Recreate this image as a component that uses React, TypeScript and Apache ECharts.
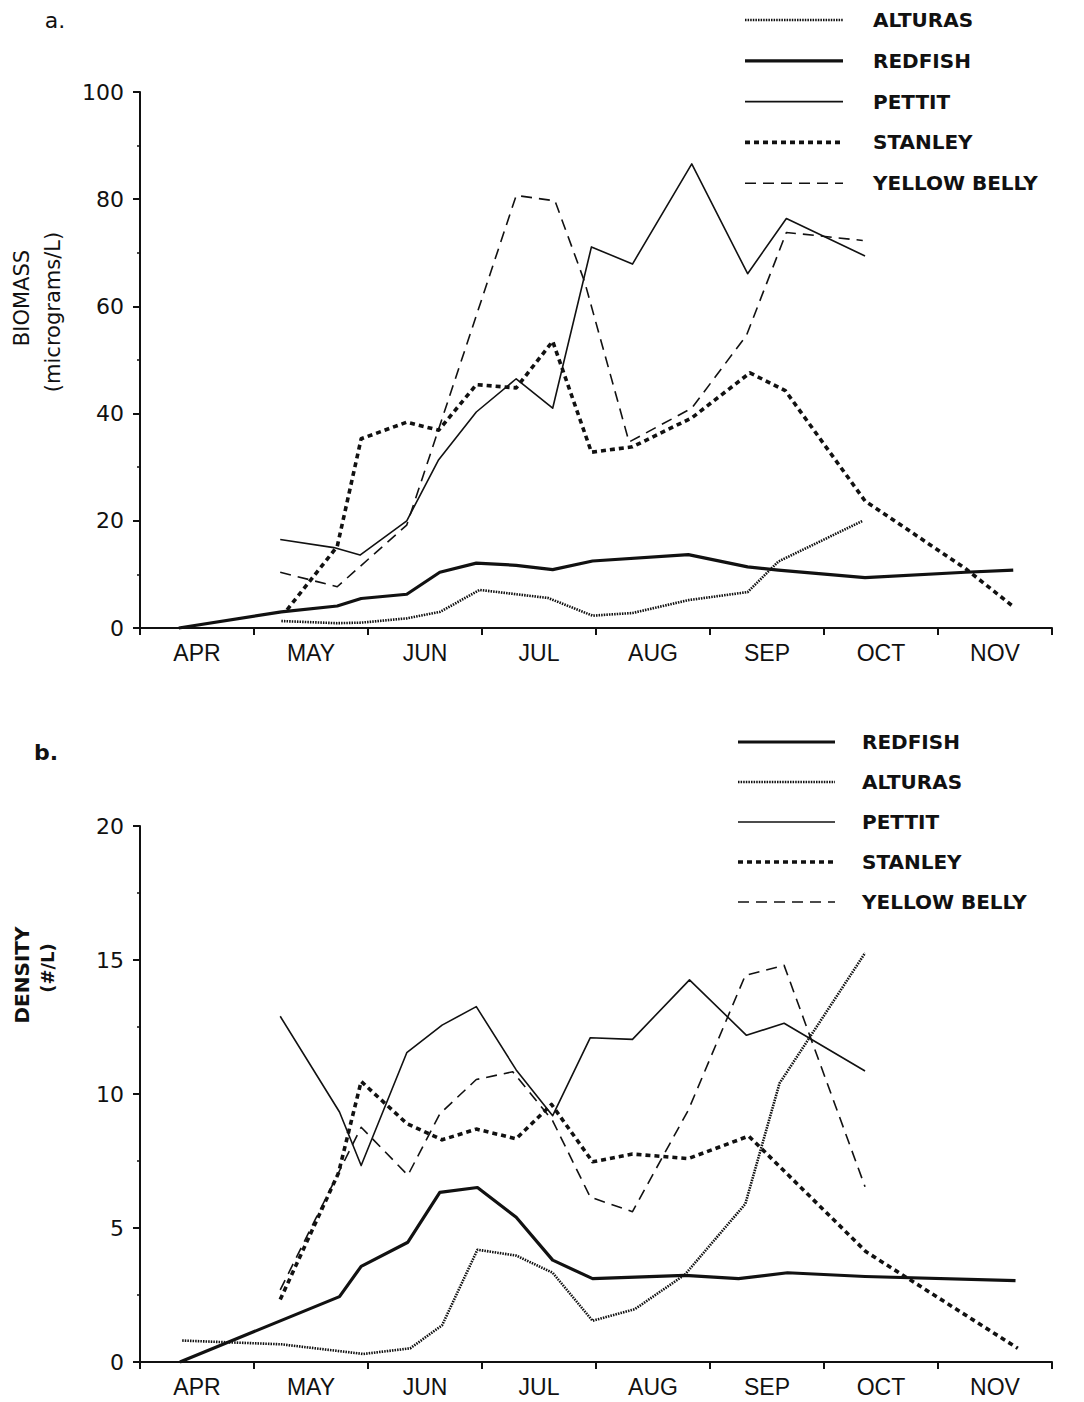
import React, { useEffect, useRef } from "react";
import * as echarts from "echarts";

// Month categories (x axis labels)
const months = ["APR", "MAY", "JUN", "JUL", "AUG", "SEP", "OCT", "NOV"];

// x values are months elapsed since 1 April
// Panel a: BIOMASS (micrograms/L)
const alturasBiomass = [[1.24, 1.3], [1.73, 0.9], [1.94, 1.0], [2.34, 1.8], [2.63, 3.0], [2.98, 7.1], [3.58, 5.6], [3.97, 2.3], [4.32, 2.8], [4.81, 5.2], [5.33, 6.7], [5.6, 12.4], [6.34, 20.0]];
const redfishBiomass = [[0.34, 0], [1.24, 3.0], [1.73, 4.1], [1.94, 5.5], [2.34, 6.3], [2.63, 10.4], [2.95, 12.1], [3.3, 11.7], [3.62, 10.9], [3.97, 12.5], [4.81, 13.7], [5.33, 11.4], [5.6, 10.8], [6.36, 9.4], [7.24, 10.4], [7.66, 10.8]];
const pettitBiomass = [[1.23, 16.5], [1.7, 15.0], [1.93, 13.6], [2.34, 20.0], [2.62, 31.4], [2.95, 40.3], [3.3, 46.5], [3.62, 41.0], [3.96, 71.1], [4.32, 67.9], [4.84, 86.6], [5.33, 66.1], [5.67, 76.4], [6.36, 69.4]];
const stanleyBiomass = [[1.29, 3.4], [1.73, 15.2], [1.94, 35.3], [2.34, 38.4], [2.62, 36.9], [2.95, 45.4], [3.3, 44.8], [3.62, 53.5], [3.96, 32.8], [4.32, 33.8], [4.84, 39.2], [5.35, 47.6], [5.66, 44.3], [6.36, 23.7], [7.24, 11.1], [7.66, 4.0]];
const yellowBellyBiomass = [[1.23, 10.4], [1.73, 7.7], [2.34, 19.2], [3.3, 80.7], [3.64, 79.7], [3.9, 64.6], [4.29, 34.7], [4.84, 41.0], [5.32, 54.6], [5.67, 73.8], [6.34, 72.3]];

// Panel b: DENSITY (#/L)
const redfishDensity = [[0.35, 0], [1.75, 2.44], [1.94, 3.57], [2.35, 4.47], [2.63, 6.33], [2.96, 6.51], [3.3, 5.4], [3.62, 3.8], [3.97, 3.11], [4.78, 3.23], [5.25, 3.11], [5.68, 3.33], [6.36, 3.19], [7.68, 3.04]];
const alturasDensity = [[0.37, 0.8], [1.24, 0.66], [1.96, 0.3], [2.37, 0.51], [2.65, 1.37], [2.96, 4.19], [3.3, 3.97], [3.62, 3.33], [3.97, 1.54], [4.34, 1.97], [4.78, 3.26], [5.31, 5.9], [5.61, 10.4], [6.36, 15.26]];
const pettitDensity = [[1.23, 12.9], [1.75, 9.33], [1.94, 7.33], [2.34, 11.54], [2.65, 12.57], [2.95, 13.26], [3.3, 10.9], [3.62, 9.19], [3.95, 12.1], [4.32, 12.04], [4.82, 14.26], [5.32, 12.19], [5.65, 12.64], [6.36, 10.86]];
const stanleyDensity = [[1.23, 2.33], [1.74, 7.04], [1.94, 10.47], [2.34, 8.9], [2.65, 8.29], [2.95, 8.69], [3.3, 8.33], [3.61, 9.61], [3.97, 7.47], [4.32, 7.76], [4.81, 7.59], [5.34, 8.43], [6.37, 4.11], [7.7, 0.51]];
const yellowBellyDensity = [[1.23, 2.69], [1.94, 8.76], [2.35, 6.97], [2.63, 9.26], [2.95, 10.54], [3.27, 10.83], [3.62, 9.0], [3.95, 6.15], [4.32, 5.61], [4.81, 9.4], [5.31, 14.43], [5.65, 14.8], [6.36, 6.54]];

// Legend orders
const legendA = ["ALTURAS", "REDFISH", "PETTIT", "STANLEY", "YELLOW BELLY"];
const legendB = ["REDFISH", "ALTURAS", "PETTIT", "STANLEY", "YELLOW BELLY"];

// Line styles per lake
const lineStyles: Record<string, { width: number; dash: number[] | null }> = {
  ALTURAS: { width: 2.6, dash: [1.5, 1.1] },
  REDFISH: { width: 3.2, dash: null },
  PETTIT: { width: 1.6, dash: null },
  STANLEY: { width: 3.6, dash: [5, 4] },
  "YELLOW BELLY": { width: 1.6, dash: [11, 7] },
};

const FONT = "'Liberation Sans', Arial, Helvetica, sans-serif";
const WIDE = "'DejaVu Sans', 'Liberation Sans', sans-serif";
const INK = "#111";

function makeSeries(name: string, data: number[][], xAxisIndex: number, yAxisIndex: number) {
  const st = lineStyles[name];
  return {
    type: "line",
    name,
    xAxisIndex,
    yAxisIndex,
    data,
    symbol: "none",
    showSymbol: false,
    clip: false,
    lineStyle: {
      color: INK,
      width: st.width,
      type: st.dash ? st.dash : "solid",
      cap: "butt",
      join: "round",
    },
  };
}

function legendGraphics(names: string[], x1: number, x2: number, tx: number, y0: number, gap: number) {
  const els: any[] = [];
  names.forEach((n, i) => {
    const st = lineStyles[n];
    const y = y0 + i * gap;
    els.push({
      type: "line",
      shape: { x1, y1: y, x2, y2: y },
      style: { stroke: INK, lineWidth: st.width, lineDash: st.dash ? st.dash : null },
    });
    els.push({
      type: "text",
      x: tx,
      y,
      style: {
        text: n,
        font: `bold 20px ${WIDE}`,
        fill: INK,
        textAlign: "left",
        textVerticalAlign: "middle",
      },
    });
  });
  return els;
}

function catAxis(gridIndex: number) {
  return {
    type: "category",
    gridIndex,
    data: months,
    boundaryGap: true,
    axisLine: { show: true, lineStyle: { color: INK, width: 2 } },
    axisTick: { show: true, length: 7, inside: false, lineStyle: { color: INK, width: 2 } },
    axisLabel: { show: true, color: INK, fontFamily: FONT, fontSize: 23, margin: 13 },
    splitLine: { show: false },
  };
}

function valXAxis(gridIndex: number) {
  return {
    type: "value",
    gridIndex,
    min: 0,
    max: 8,
    show: false,
    splitLine: { show: false },
  };
}

function yAxis(gridIndex: number, max: number, interval: number) {
  return {
    type: "value",
    gridIndex,
    min: 0,
    max,
    interval,
    axisLine: { show: true, lineStyle: { color: INK, width: 2 } },
    axisTick: { show: true, length: 7, lineStyle: { color: INK, width: 2 } },
    minorTick: { show: true, splitNumber: 2, length: 3, lineStyle: { color: INK, width: 1.5 } },
    axisLabel: { color: INK, fontFamily: WIDE, fontSize: 22, margin: 16 },
    splitLine: { show: false },
    minorSplitLine: { show: false },
  };
}

export default function App() {
  const ref = useRef<HTMLDivElement>(null);
  useEffect(() => {
    if (!ref.current) return;
    const chart = echarts.init(ref.current, null, { renderer: "svg" });
    const option: any = {
      animation: false,
      backgroundColor: "#fff",
      grid: [
        { left: 140, top: 92, width: 912, height: 536, containLabel: false },
        { left: 140, top: 826, width: 912, height: 536, containLabel: false },
      ],
      xAxis: [catAxis(0), valXAxis(0), catAxis(1), valXAxis(1)],
      yAxis: [yAxis(0, 100, 20), yAxis(1, 20, 5)],
      series: [
        makeSeries("ALTURAS", alturasBiomass, 1, 0),
        makeSeries("REDFISH", redfishBiomass, 1, 0),
        makeSeries("PETTIT", pettitBiomass, 1, 0),
        makeSeries("STANLEY", stanleyBiomass, 1, 0),
        makeSeries("YELLOW BELLY", yellowBellyBiomass, 1, 0),
        makeSeries("REDFISH", redfishDensity, 3, 1),
        makeSeries("ALTURAS", alturasDensity, 3, 1),
        makeSeries("PETTIT", pettitDensity, 3, 1),
        makeSeries("STANLEY", stanleyDensity, 3, 1),
        makeSeries("YELLOW BELLY", yellowBellyDensity, 3, 1),
      ],
      graphic: [
        {
          type: "text",
          x: 55,
          y: 20,
          style: { text: "a.", font: `22px ${WIDE}`, fill: INK, textAlign: "center", textVerticalAlign: "middle" },
        },
        {
          type: "text",
          x: 46,
          y: 752,
          style: { text: "b.", font: `bold 22px ${WIDE}`, fill: INK, textAlign: "center", textVerticalAlign: "middle" },
        },
        {
          type: "text",
          x: 22,
          y: 298,
          rotation: Math.PI / 2,
          style: { text: "BIOMASS", font: `21px ${WIDE}`, fill: INK, textAlign: "center", textVerticalAlign: "middle" },
        },
        {
          type: "text",
          x: 53,
          y: 312,
          rotation: Math.PI / 2,
          style: { text: "(micrograms/L)", font: `21px ${WIDE}`, fill: INK, textAlign: "center", textVerticalAlign: "middle" },
        },
        {
          type: "text",
          x: 22,
          y: 975,
          rotation: Math.PI / 2,
          style: { text: "DENSITY", font: `bold 20px ${WIDE}`, fill: INK, textAlign: "center", textVerticalAlign: "middle" },
        },
        {
          type: "text",
          x: 47,
          y: 968,
          rotation: Math.PI / 2,
          style: { text: "(#/L)", font: `bold 18px ${WIDE}`, fill: INK, textAlign: "center", textVerticalAlign: "middle" },
        },
        ...legendGraphics(legendA, 745, 843, 873, 20, 40.8),
        ...legendGraphics(legendB, 738, 835, 862, 742, 40),
      ],
    };
    chart.setOption(option);
    return () => chart.dispose();
  }, []);
  return (
    <div
      ref={ref}
      style={{ position: "absolute", left: 0, top: 0, width: 1084, height: 1402, background: "#fff" }}
    />
  );
}
